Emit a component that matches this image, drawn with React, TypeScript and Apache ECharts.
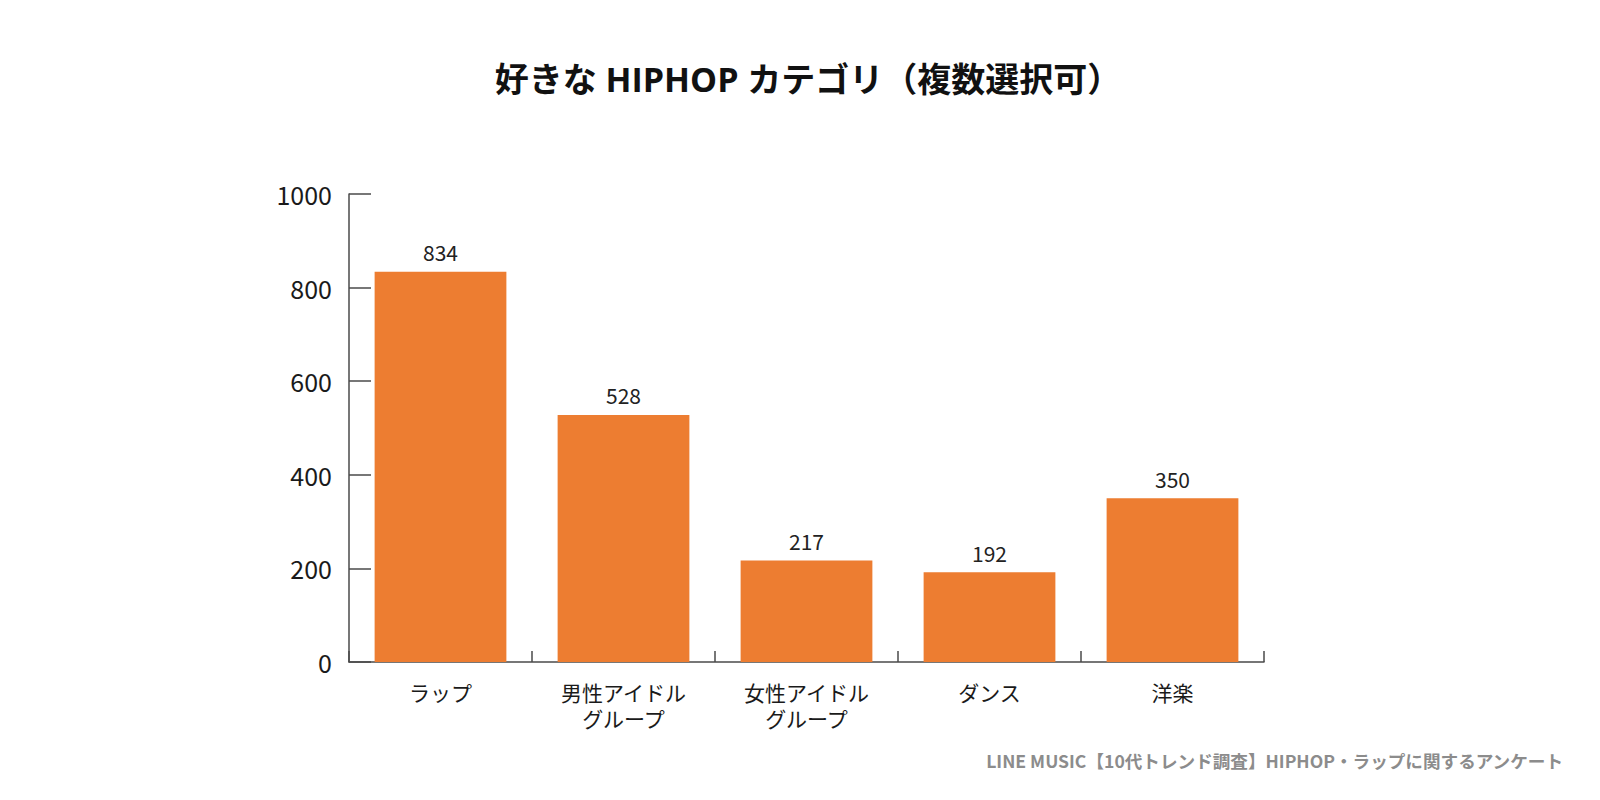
import React, { useEffect, useRef } from "react";
import * as echarts from "echarts";

const titleText = "好きな HIPHOP カテゴリ（複数選択可）";
const sourceText = "LINE MUSIC【10代トレンド調査】HIPHOP・ラップに関するアンケート";
const categories = ["ラップ", "男性アイドル\nグループ", "女性アイドル\nグループ", "ダンス", "洋楽"];
const values = [834, 528, 217, 192, 350];
const yTicks = { min: 0, max: 1000, interval: 200 };

const FONT = "'Noto Sans CJK JP', 'Noto Sans', sans-serif";
const TITLE_FONT = "'Open Sans', 'Noto Sans CJK JP', sans-serif";

export default function App() {
  const ref = useRef<HTMLDivElement>(null);
  useEffect(() => {
    if (!ref.current) return;
    const chart = echarts.init(ref.current, undefined, { renderer: "svg" });
    chart.setOption({
      animation: false,
      backgroundColor: "#ffffff",
      textStyle: { fontFamily: FONT },
      grid: { left: 349, right: 336, top: 194, bottom: 138, containLabel: false },
      xAxis: {
        type: "category",
        data: categories,
        axisLine: { show: true, lineStyle: { color: "#4a4a4a", width: 1.5 } },
        axisTick: { show: true, inside: true, length: 11, alignWithLabel: false, lineStyle: { color: "#4a4a4a", width: 1.5 } },
        axisLabel: { fontSize: 21, lineHeight: 26, color: "#1a1a1a", margin: 17, fontFamily: FONT, interval: 0 },
        splitLine: { show: false },
      },
      yAxis: {
        type: "value",
        min: yTicks.min,
        max: yTicks.max,
        interval: yTicks.interval,
        axisLine: { show: true, lineStyle: { color: "#4a4a4a", width: 1.5 } },
        axisTick: { show: true, inside: true, length: 22, lineStyle: { color: "#4a4a4a", width: 1.5 } },
        axisLabel: { fontSize: 25, color: "#1a1a1a", margin: 17, fontFamily: FONT, formatter: (v: number) => String(v) },
        splitLine: { show: false },
      },
      series: [
        {
          type: "bar",
          data: values,
          barCategoryGap: "28%",
          itemStyle: { color: "#ED7D31" },
          label: { show: true, position: "top", distance: 9, fontSize: 21, color: "#222222", fontFamily: FONT },
        },
      ],
      graphic: [
        {
          type: "text",
          x: 808,
          y: 79,
          style: {
            text: titleText,
            fontSize: 34,
            fontWeight: "bold",
            fill: "#111111",
            fontFamily: TITLE_FONT,
            textAlign: "center",
            textVerticalAlign: "middle",
          },
        },
        {
          type: "text",
          x: 1563,
          y: 760,
          style: {
            text: sourceText,
            fontSize: 17.6,
            fontWeight: "bold",
            fill: "#8c8c8c",
            fontFamily: FONT,
            textAlign: "right",
            textVerticalAlign: "middle",
          },
        },
      ],
    });
    return () => chart.dispose();
  }, []);
  return <div ref={ref} style={{ position: "fixed", left: 0, top: 0, width: 1600, height: 800 }} />;
}
